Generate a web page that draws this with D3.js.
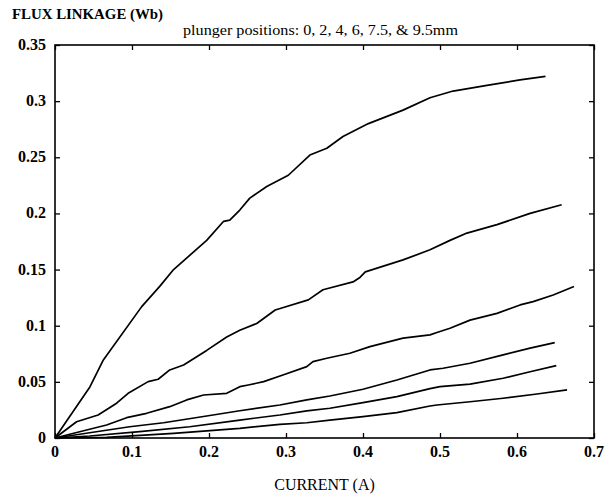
<!DOCTYPE html>
<html><head><meta charset="utf-8">
<script src="https://cdn.jsdelivr.net/npm/d3@7"></script>
<style>body{margin:0;background:#fff}text{font-family:"Liberation Serif","Times New Roman",serif;fill:#000}</style>
</head><body><svg id="c" width="607" height="496"></svg>
<script>
const xTicks = [0,0.1,0.2,0.3,0.4,0.5,0.6,0.7];
const yTicks = [0,0.05,0.1,0.15,0.2,0.25,0.3,0.35];
const yTickLabels = ["0","0.05","0.1","0.15","0.2","0.25","0.3","0.35"];
const xTickLabels = ["0","0.1","0.2","0.3","0.4","0.5","0.6","0.7"];
const title = "FLUX LINKAGE (Wb)";
const subtitle = "plunger positions: 0, 2, 4, 6, 7.5, & 9.5mm";
const xLabel = "CURRENT (A)";

const curve0 = [[0,0],[0.0455,0.0457],[0.0628,0.0695],[0.1126,0.117],[0.136,0.135],[0.154,0.150],[0.197,0.176],[0.219,0.193],[0.227,0.194],[0.240,0.203],[0.253,0.2136],[0.275,0.224],[0.303,0.234],[0.331,0.252],[0.353,0.258],[0.374,0.2685],[0.407,0.280],[0.452,0.292],[0.487,0.303],[0.517,0.309],[0.561,0.314],[0.604,0.319],[0.637,0.322]];
const curve1 = [[0,0],[0.028,0.0145],[0.056,0.0205],[0.080,0.031],[0.095,0.0398],[0.121,0.0502],[0.134,0.0523],[0.149,0.0606],[0.167,0.065],[0.197,0.078],[0.223,0.090],[0.240,0.096],[0.262,0.102],[0.286,0.114],[0.329,0.123],[0.348,0.132],[0.387,0.139],[0.396,0.143],[0.403,0.148],[0.452,0.1586],[0.487,0.1676],[0.513,0.176],[0.535,0.1825],[0.574,0.190],[0.617,0.200],[0.658,0.2077]];
const curve2 = [[0,0],[0.032,0.0056],[0.067,0.0116],[0.093,0.0181],[0.119,0.022],[0.149,0.0279],[0.171,0.0339],[0.193,0.0383],[0.223,0.0398],[0.240,0.0457],[0.251,0.0472],[0.271,0.0502],[0.296,0.0561],[0.327,0.0636],[0.335,0.068],[0.353,0.071],[0.383,0.0755],[0.409,0.0814],[0.452,0.0889],[0.487,0.0918],[0.496,0.0939],[0.513,0.0978],[0.539,0.105],[0.574,0.111],[0.604,0.1185],[0.621,0.1215],[0.647,0.1274],[0.674,0.1349]];
const curve3 = [[0,0],[0.045,0.0047],[0.097,0.010],[0.141,0.0136],[0.197,0.0196],[0.240,0.0243],[0.292,0.0294],[0.327,0.0339],[0.357,0.0374],[0.400,0.0434],[0.444,0.0517],[0.487,0.0606],[0.504,0.0621],[0.539,0.0666],[0.582,0.074],[0.617,0.080],[0.649,0.085]];
const curve4 = [[0,0],[0.045,0.0018],[0.110,0.0056],[0.175,0.010],[0.240,0.016],[0.292,0.0205],[0.327,0.0241],[0.357,0.0265],[0.400,0.0315],[0.444,0.0368],[0.487,0.0440],[0.500,0.0457],[0.539,0.0480],[0.582,0.0532],[0.617,0.059],[0.651,0.0645]];
const curve5 = [[0,0],[0.067,0.0006],[0.154,0.0042],[0.240,0.0086],[0.292,0.0122],[0.327,0.0136],[0.357,0.016],[0.400,0.019],[0.444,0.0226],[0.487,0.0285],[0.496,0.0294],[0.539,0.0323],[0.582,0.0354],[0.626,0.0392],[0.665,0.0428]];
const curves = [curve0, curve1, curve2, curve3, curve4, curve5];

const svg = d3.select("#c");
const L = 55, R = 594, T = 45, B = 438;
const x = d3.scaleLinear().domain([0,0.7]).range([L,R]);
const y = d3.scaleLinear().domain([0,0.35]).range([B,T]);

const tk = 5;
svg.append("g").attr("transform",`translate(0,${B})`)
  .call(d3.axisTop(x).tickValues(xTicks).tickSize(tk).tickFormat(""))
  .call(g=>g.select(".domain").remove());
svg.append("g").attr("transform",`translate(0,${T})`)
  .call(d3.axisBottom(x).tickValues(xTicks).tickSize(tk).tickFormat(""))
  .call(g=>g.select(".domain").remove());
svg.append("g").attr("transform",`translate(${L},0)`)
  .call(d3.axisRight(y).tickValues(yTicks).tickSize(tk).tickFormat(""))
  .call(g=>g.select(".domain").remove());
svg.append("g").attr("transform",`translate(${R},0)`)
  .call(d3.axisLeft(y).tickValues(yTicks).tickSize(tk).tickFormat(""))
  .call(g=>g.select(".domain").remove());
svg.selectAll(".tick line").attr("stroke","#000").attr("stroke-width",1.3);

svg.append("rect").attr("x",L).attr("y",T).attr("width",R-L).attr("height",B-T)
  .attr("fill","none").attr("stroke","#000").attr("stroke-width",1.6);

svg.append("g").selectAll("text").data(xTicks).join("text")
  .attr("x",d=>x(d)).attr("y",B+19).attr("text-anchor","middle")
  .attr("font-size",16).attr("font-weight","bold").text((d,i)=>xTickLabels[i]);
svg.append("g").selectAll("text").data(yTicks).join("text")
  .attr("x",L-9).attr("y",d=>y(d)+5).attr("text-anchor","end")
  .attr("font-size",16).attr("font-weight","bold").text((d,i)=>yTickLabels[i]);

const line = d3.line().x(d=>x(d[0])).y(d=>y(d[1]));
svg.append("g").selectAll("path").data(curves).join("path")
  .attr("d",line).attr("fill","none").attr("stroke","#000")
  .attr("stroke-width",1.7).attr("stroke-linejoin","round");

svg.append("text").attr("x",12).attr("y",19).attr("font-size",15).attr("font-weight","bold")
  .attr("textLength",151).attr("lengthAdjust","spacingAndGlyphs").text(title);
svg.append("text").attr("x",183).attr("y",35).attr("font-size",15)
  .attr("textLength",275).attr("lengthAdjust","spacingAndGlyphs").text(subtitle);
svg.append("text").attr("x",(L+R)/2).attr("y",490).attr("text-anchor","middle").attr("font-size",16).text(xLabel);
</script></body></html>
